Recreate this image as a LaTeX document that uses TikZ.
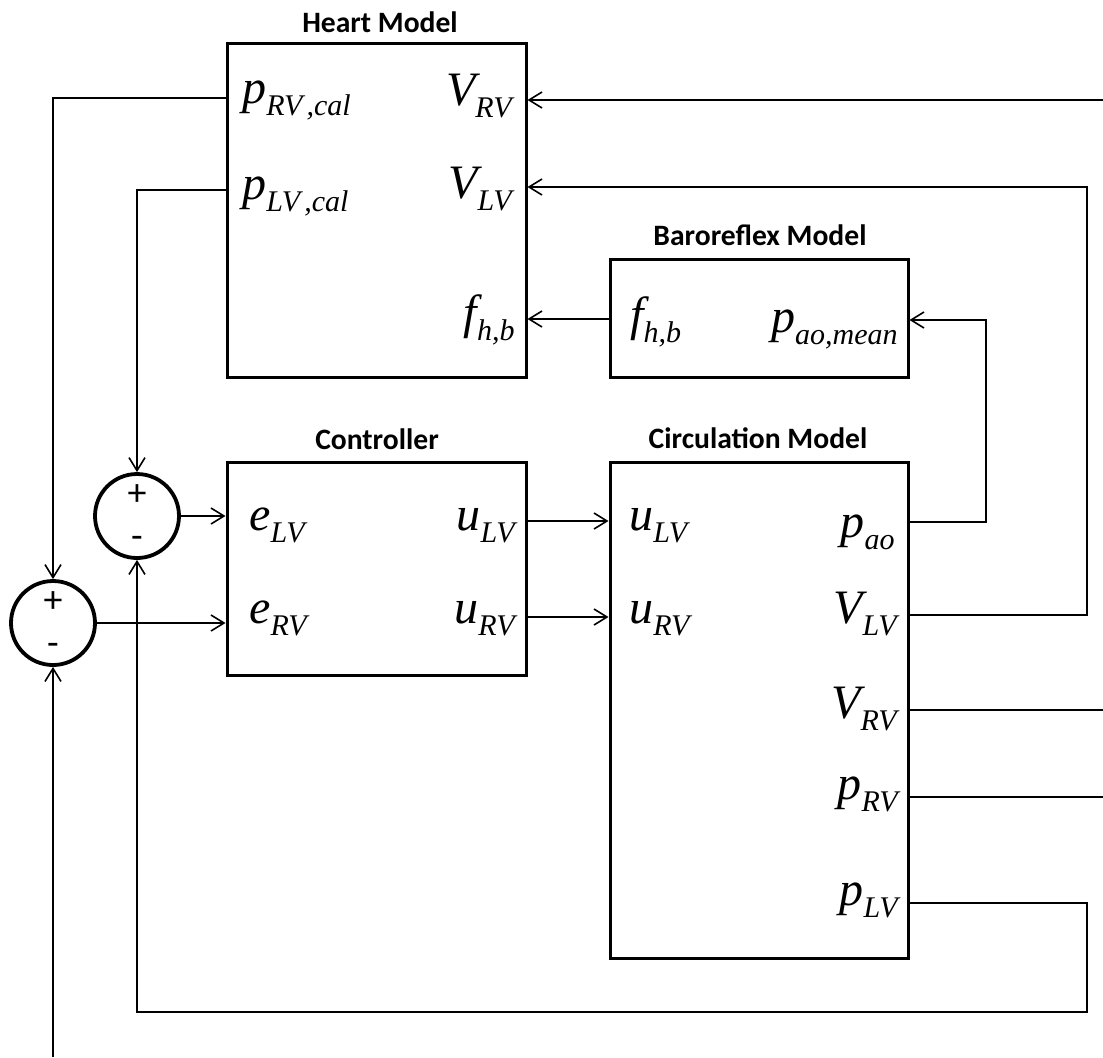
\documentclass[tikz,border=0pt]{standalone}
\usepackage{fontspec}
\setmainfont{Liberation Serif}[ItalicFont={Liberation Serif Italic}]
\newfontfamily\varfont{Liberation Serif Italic}
\newfontfamily\titlefont{Carlito}
\usetikzlibrary{arrows.meta,calc}

% variable with subscript, set like an equation-editor label
\newcommand\varlab[2]{{\varfont\fontsize{24}{24}\selectfont #1}\raisebox{-6pt}{\varfont\fontsize{15}{15}\selectfont #2}}

\tikzset{
  block/.style={draw, line width=1.5pt, inner sep=0pt},
  blocktitle/.style={font=\titlefont\bfseries\fontsize{14.8}{15}\selectfont, anchor=base, inner sep=0pt},
  var/.style={inner sep=0pt},
  sumnode/.style={draw, circle, line width=1.9pt, minimum size=42pt, inner sep=0pt},
  sign/.style={font=\titlefont\fontsize{19}{19}\selectfont, inner sep=0pt},
  sig/.style={line width=0.8pt},
  sigarrow/.style={sig, -{Straight Barb[length=6.5pt, width=8pt, line width=0.8pt]}}
}

\begin{document}
\begin{tikzpicture}[x=0.5pt, y=-0.5pt]
\useasboundingbox (0,0) rectangle (1103,1057);

% ---- blocks ----
\node[block, minimum width=149.5pt, minimum height=167pt] (heart) at (376.5,210) {};
\node[block, minimum width=149pt, minimum height=59pt] (baro) at (759,318) {};
\node[block, minimum width=149.5pt, minimum height=106.5pt] (ctrl) at (376.5,568.5) {};
\node[block, minimum width=149pt, minimum height=248pt] (circ) at (759,710) {};

% ---- titles ----
\node[blocktitle] (theart) at (380,32) {Heart Model};
\node[blocktitle] (tbaro) at (760,245) {Baroreflex Model};
\node[blocktitle] (tctrl) at (377,449) {Controller};
\node[blocktitle] (tcirc) at (758,448) {Circulation Model};

% ---- summing junctions ----
\node[sumnode] (sumL) at (137,516) {};
\node[sumnode] (sumR) at (53,623) {};
\node[sign] (sumLp) at (137,495) {+};
\node[sign] (sumLm) at (137,542) {-};
\node[sign] (sumRp) at (53,602) {+};
\node[sign] (sumRm) at (53,649) {-};

% ---- labels: heart model ----
\node[var, anchor=base west] (hpRV) at (242,103) {\varlab{p}{RV\hspace{2pt},cal}};
\node[var, anchor=base west] (hpLV) at (242,199) {\varlab{p}{LV\hspace{2pt},cal}};
\node[var, anchor=base east] (hVRV) at (512,105) {\varlab{V}{RV}};
\node[var, anchor=base east] (hVLV) at (512,198) {\varlab{V}{LV}};
\node[var, anchor=base east] (hfhb) at (515,328) {\varlab{f}{h,b}};

% ---- labels: baroreflex model ----
\node[var, anchor=base west] (bfhb) at (630,330) {\varlab{f}{h,b}};
\node[var, anchor=base east] (bpao) at (898,332) {\varlab{p}{ao,mean}};

% ---- labels: controller ----
\node[var, anchor=base west] (ceLV) at (249,530) {\varlab{e}{LV}};
\node[var, anchor=base west] (ceRV) at (249,623) {\varlab{e}{RV}};
\node[var, anchor=base east] (cuLV) at (515,530) {\varlab{u}{LV}};
\node[var, anchor=base east] (cuRV) at (515,623) {\varlab{u}{RV}};

% ---- labels: circulation model ----
\node[var, anchor=base west] (kuLV) at (629,530) {\varlab{u}{LV}};
\node[var, anchor=base west] (kuRV) at (629,623) {\varlab{u}{RV}};
\node[var, anchor=base east] (kpao) at (895,537) {\varlab{p}{ao}};
\node[var, anchor=base east] (kVLV) at (897,623) {\varlab{V}{LV}};
\node[var, anchor=base east] (kVRV) at (897,718) {\varlab{V}{RV}};
\node[var, anchor=base east] (kpRV) at (898,799) {\varlab{p}{RV}};
\node[var, anchor=base east] (kpLV) at (898,905) {\varlab{p}{LV}};

% ---- port coordinates on block edges ----
\coordinate (hinVRV) at (heart.east |- 0,100);
\coordinate (hinVLV) at (heart.east |- 0,187);
\coordinate (houtpRV) at (heart.west |- 0,98);
\coordinate (houtpLV) at (heart.west |- 0,190);
\coordinate (hinfhb) at (heart.east |- 0,319);
\coordinate (boutfhb) at (baro.west |- 0,319);
\coordinate (binpao) at (baro.east |- 0,320);
\coordinate (coutpao) at (circ.east |- 0,522);
\coordinate (coutVLV) at (circ.east |- 0,615);
\coordinate (coutVRV) at (circ.east |- 0,710);
\coordinate (coutpRV) at (circ.east |- 0,797);
\coordinate (coutpLV) at (circ.east |- 0,903);

% free ends at the picture border
\coordinate (extVRV) at (1103,100);
\coordinate (extVRVout) at (1103,710);
\coordinate (extpRVout) at (1103,797);
\coordinate (extsumR) at (53,1057);

% ---- connectors ----
\draw[sigarrow] (extVRV) -- (hinVRV);
\draw[sigarrow] (coutVLV) -- (1087,615) -- (1087,187) -- (hinVLV);
\draw[sigarrow] (houtpRV) -- (sumR.north |- houtpRV) -- (sumR.north);
\draw[sigarrow] (houtpLV) -- (sumL.north |- houtpLV) -- (sumL.north);
\draw[sigarrow] (boutfhb) -- (hinfhb);
\draw[sigarrow] (coutpao) -- (986,522) -- (986,320) -- (binpao);
\draw[sigarrow] (sumL.east) -- (sumL.east -| ctrl.west);
\draw[sigarrow] (sumR.east) -- (sumR.east -| ctrl.west);
\draw[sigarrow] (ctrl.east |- 0,521) -- (circ.west |- 0,521);
\draw[sigarrow] (ctrl.east |- 0,617) -- (circ.west |- 0,617);
\draw[sig] (coutVRV) -- (extVRVout);
\draw[sig] (coutpRV) -- (extpRVout);
\draw[sigarrow] (coutpLV) -- (1087,903) -- (1087,1012) -- (sumL.south |- 0,1012) -- (sumL.south);
\draw[sigarrow] (extsumR) -- (sumR.south);
\end{tikzpicture}
\end{document}
